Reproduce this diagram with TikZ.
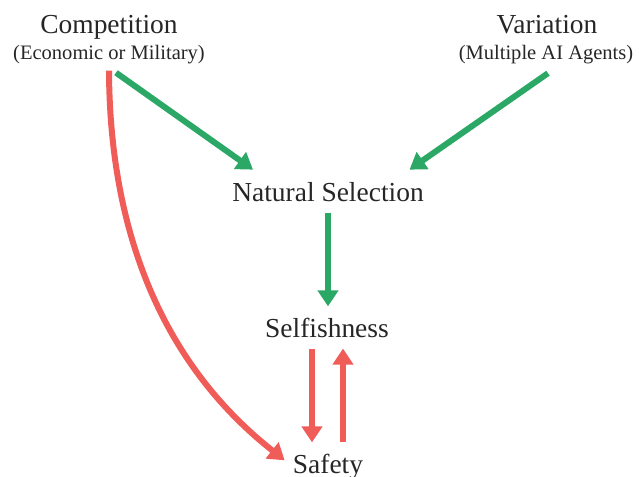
\documentclass[tikz,border=0pt]{standalone}
\usepackage{fontspec}
\setmainfont{Liberation Serif}
\usetikzlibrary{arrows.meta}
\definecolor{selgreen}{RGB}{43,168,101}
\definecolor{safered}{RGB}{240,92,88}

\begin{document}
\begin{tikzpicture}[x=0.75pt, y=-0.75pt,
    label/.style={inner sep=0, anchor=base, text=black!85, font=\fontsize{20.6}{24}\selectfont},
    sublabel/.style={inner sep=0, anchor=base, text=black!85, font=\fontsize{15.4}{18}\selectfont},
    greenarrow/.style={draw=selgreen, line width=4.5pt, -{Triangle[width=15pt,length=12pt]}},
    redarrow/.style={draw=safered, line width=4.5pt, -{Triangle[width=15pt,length=12pt]}}]
    \useasboundingbox (0,0) rectangle (639,476);

    % Sources at the top
    \node[label] (comp) at (109,33) {Competition};
    \node[sublabel] (compsub) at (109,59) {(Economic or Military)};
    \node[label] (var) at (547,33) {Variation};
    \node[sublabel] (varsub) at (546,59) {(Multiple AI Agents)};

    % Middle and bottom
    \node[label] (natsel) at (328,201) {Natural Selection};
    \node[label] (selfish) at (327,337) {Selfishness};
    \node[label] (safety) at (328,473) {Safety};

    % Green arrows into natural selection
    \draw[greenarrow] ([shift={(7,9)}]compsub.south) -- ([shift={(21,-12)}]natsel.north west);
    \draw[greenarrow] ([shift={(2,9.5)}]varsub.south) -- ([shift={(-14.5,-12)}]natsel.north east);
    \draw[greenarrow, shorten <=8.25pt, shorten >=8.25pt] (natsel.south) -- (natsel.south |- selfish.north);

    % Red arrows towards safety
    \draw[redarrow] ([shift={(0,7)}]compsub.south) .. controls (110,300) and (215,405) .. ([shift={(-8,-6)}]safety.west);
    \draw[redarrow, shorten <=8.25pt, shorten >=8.25pt] ([xshift=-11.25pt]selfish.south) -- ([xshift=-11.25pt]selfish.south |- safety.north);
    \draw[redarrow, shorten <=8.25pt, shorten >=8.25pt] ([xshift=12pt]selfish.south |- safety.north) -- ([xshift=12pt]selfish.south);

\end{tikzpicture}
\end{document}
